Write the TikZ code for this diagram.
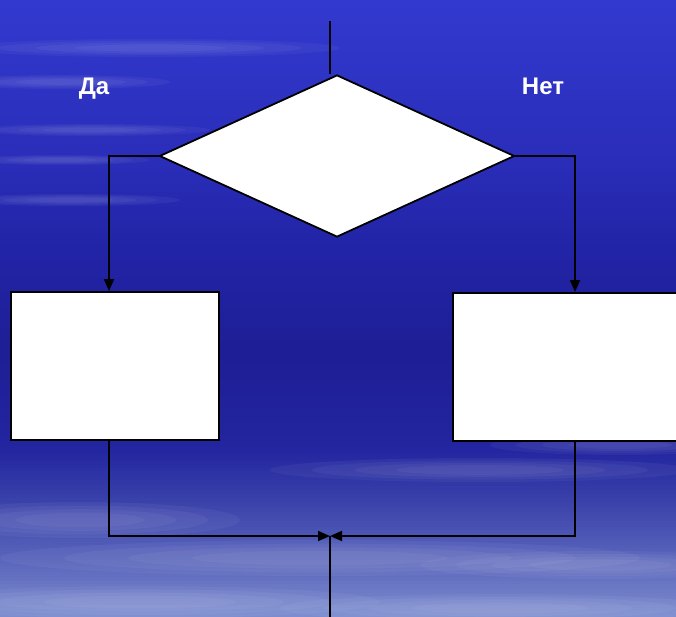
\documentclass[tikz,border=0pt]{standalone}
\usepackage{fontspec}
\setmainfont{Liberation Sans}
\usetikzlibrary{shapes.geometric,arrows.meta}
\definecolor{cA}{HTML}{3239CE}
\definecolor{cB}{HTML}{2A2EBA}
\definecolor{cC}{HTML}{2224A6}
\definecolor{cD}{HTML}{1E1E96}
\definecolor{cE}{HTML}{2326A0}
\definecolor{cF}{HTML}{3A42AA}
\definecolor{cG}{HTML}{5A66BC}
\definecolor{cH}{HTML}{8090D0}
\newcommand{\bandseg}[4]{%
  \foreach \yy in {#1,\the\numexpr#1+3\relax,...,#2} {%
    \pgfmathsetmacro\pp{100*(#2-\yy)/(#2-#1)}%
    \fill[#3!\pp!#4] (0,\yy) rectangle (676,\yy+3.6);}}
\newcommand{\wisp}[4]{%
  \foreach \k in {1,0.8,0.6,0.4} {\fill[white, opacity=0.045] (#1,#2) ellipse ({#3*\k} and {#4*\k});}}
\tikzset{
  x=1pt, y=-1pt,
  flow/.style={line width=1.8pt, black},
  arr/.style={flow, -{Triangle[length=12pt,width=10pt]}},
  blockbox/.style={draw=black, line width=1.8pt, fill=white, rectangle, inner sep=0pt},
  decision/.style={draw=black, line width=1.8pt, fill=white, diamond, inner sep=0pt, minimum width=355pt, minimum height=162pt},
  lbl/.style={text=white, font=\bfseries\fontsize{24}{28}\selectfont, inner sep=0pt, anchor=base}
}
\begin{document}
\begin{tikzpicture}
\useasboundingbox (0,0) rectangle (676,617);
\begin{scope}
\clip (0,0) rectangle (676,617);
\bandseg{0}{150}{cA}{cB}
\bandseg{150}{250}{cB}{cC}
\bandseg{250}{350}{cC}{cD}
\bandseg{350}{450}{cD}{cE}
\bandseg{450}{500}{cE}{cF}
\bandseg{500}{560}{cF}{cG}
\bandseg{560}{620}{cG}{cH}
% cloud wisps
\wisp{150}{48}{190}{9}
\wisp{60}{82}{110}{7}
\wisp{90}{130}{120}{6}
\wisp{60}{160}{90}{5}
\wisp{70}{200}{110}{6}
\wisp{620}{445}{130}{10}
\wisp{480}{470}{210}{12}
\wisp{80}{520}{160}{18}
\wisp{320}{558}{320}{18}
\wisp{600}{565}{180}{14}
\wisp{140}{602}{240}{16}
\wisp{500}{608}{220}{14}

\node[decision] (d) at (337,156) {};
\node[blockbox, minimum width=208pt, minimum height=148pt] (yes) at (115,366) {};
\node[blockbox, minimum width=240pt, minimum height=148pt, anchor=north west] (no) at (452,292) {};
\end{scope}

\coordinate (in) at (330,21);
\coordinate (out) at (330,617);
\coordinate (join) at (330,536);
\coordinate (lx) at (109,0);
\coordinate (rx) at (575,0);

\draw[flow] (in) -- (in |- d.north);
\draw[arr] (d.west) -| (lx |- yes.north);
\draw[arr] (d.east) -| (rx |- no.north);
\draw[arr] (lx |- yes.south) |- (join);
\draw[arr] (rx |- no.south) |- (join);
\draw[flow] (join) -- (out);

\node[lbl] (da) at (94,95) {Да};
\node[lbl] (net) at (543,95) {Нет};
\end{tikzpicture}
\end{document}
